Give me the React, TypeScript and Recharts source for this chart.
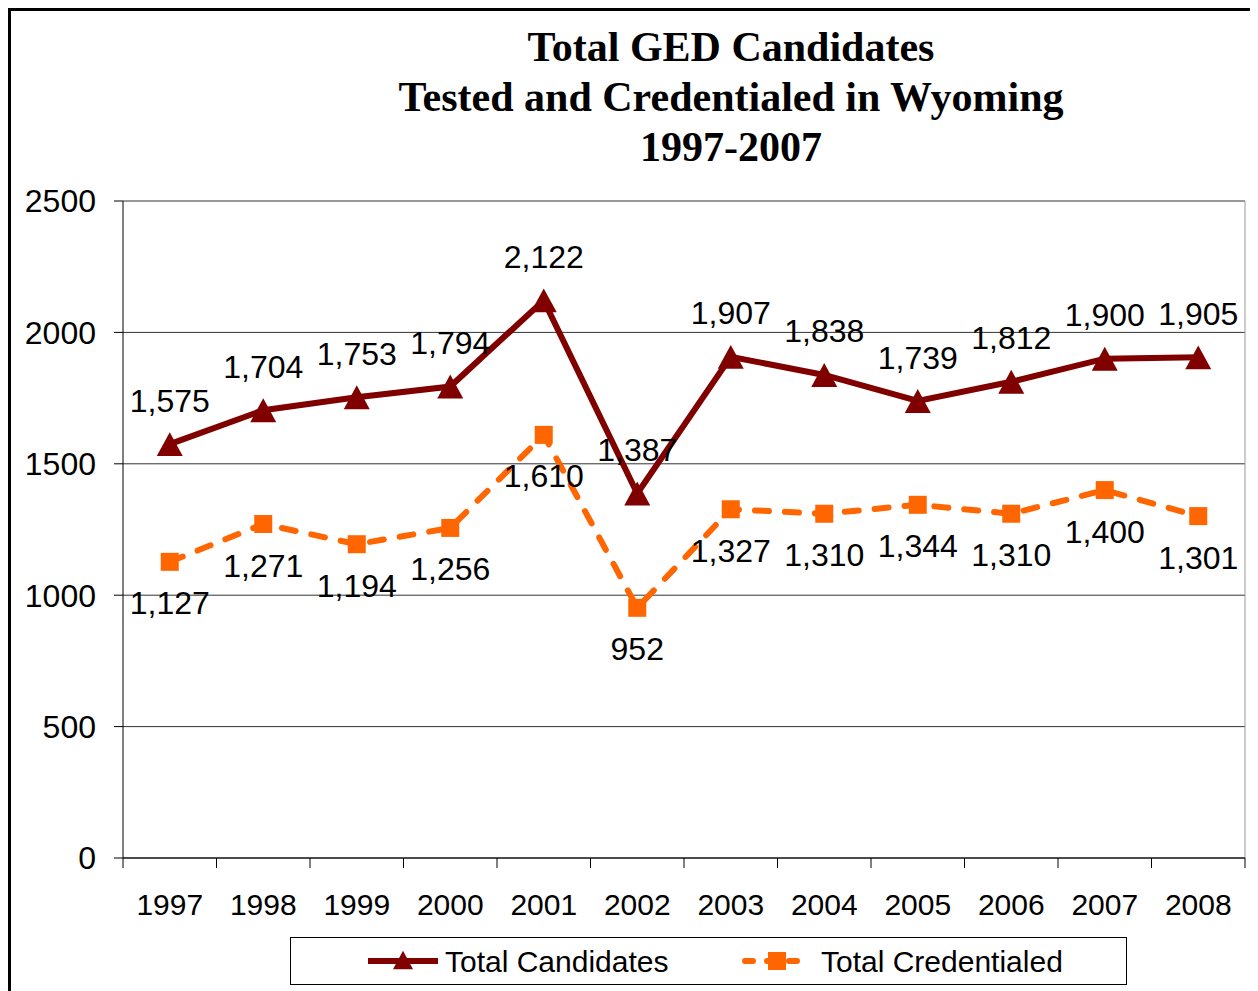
import { CartesianGrid, LabelList, Line, LineChart, XAxis, YAxis } from 'recharts';

const years = ['1997', '1998', '1999', '2000', '2001', '2002', '2003', '2004', '2005', '2006', '2007', '2008'];
const totalCandidates = [1575, 1704, 1753, 1794, 2122, 1387, 1907, 1838, 1739, 1812, 1900, 1905];
const totalCredentialed = [1127, 1271, 1194, 1256, 1610, 952, 1327, 1310, 1344, 1310, 1400, 1301];
const yTicks = [0, 500, 1000, 1500, 2000, 2500];
const titleLines = ['Total GED Candidates', 'Tested and Credentialed in Wyoming', '1997-2007'];

const MAROON = '#800000';
const ORANGE = '#FF6600';
const FONT = '"Liberation Sans", Arial, sans-serif';

const W = 1250;
const H = 983;
const margin = { top: 193, right: 13, left: 0, bottom: 0 };
const Y_W = 115;
const X_H = 133;
const plotW = W - margin.left - margin.right - Y_W;
const step = plotW / years.length;

const data = years.map((year, i) => ({
  year,
  candidates: totalCandidates[i],
  credentialed: totalCredentialed[i],
}));

const fmt = (v: number) => v.toLocaleString('en-US');

function Triangle({ cx, cy, size = 26, fill }: { cx: number; cy: number; size?: number; fill: string }) {
  const h = size * 0.92;
  return (
    <polygon
      points={`${cx},${cy - h / 2} ${cx + size / 2},${cy + h / 2} ${cx - size / 2},${cy + h / 2}`}
      fill={fill}
    />
  );
}

function XTick(props: any) {
  const { x, y, payload, index } = props;
  const left = x - step / 2;
  const last = index === years.length - 1;
  return (
    <g>
      <line x1={left} y1={y} x2={left} y2={y + 10} stroke="#000" strokeWidth={1} />
      {last && <line x1={x + step / 2} y1={y} x2={x + step / 2} y2={y + 10} stroke="#000" strokeWidth={1} />}
      <text x={x} y={y + 57} textAnchor="middle" fontSize={30} fontFamily={FONT} fill="#000">
        {payload.value}
      </text>
    </g>
  );
}

export default function App() {
  return (
    <div style={{ position: 'relative', width: W, height: H, background: '#fff' }}>
      <div
        style={{
          position: 'absolute', left: 0, top: 0, width: 1242, height: 990,
          borderLeft: '3px solid #000', borderTop: '3px solid #000', borderRight: '1px solid #999',
          pointerEvents: 'none',
        }}
      />
      <div
        style={{
          position: 'absolute', left: 323, top: 14, width: 800, textAlign: 'center',
          fontFamily: '"Liberation Serif", "Times New Roman", serif', fontWeight: 'bold',
          fontSize: 42, lineHeight: '50px', color: '#000',
        }}
      >
        {titleLines.map(t => <div key={t}>{t}</div>)}
      </div>
      <LineChart width={W} height={H} data={data} margin={margin} style={{ position: 'absolute', left: 0, top: 0 }}>
        <CartesianGrid horizontal vertical={false} stroke="#333" strokeWidth={1} />
        <CartesianGrid horizontal={false} vertical verticalPoints={[W - margin.right]} stroke="#999" strokeWidth={1} />
        <XAxis
          dataKey="year" height={X_H} tickLine={false} tickSize={0} tickMargin={0}
          padding={{ left: step / 2, right: step / 2 }}
          axisLine={{ stroke: '#000', strokeWidth: 1 }} tick={<XTick />} interval={0}
        />
        <YAxis
          width={Y_W} domain={[0, 2500]} ticks={yTicks} tickSize={9} tickMargin={18}
          axisLine={{ stroke: '#000', strokeWidth: 1 }} tickLine={{ stroke: '#000' }}
          tick={{ fill: '#000', fontSize: 32, fontFamily: FONT }}
        />
        <Line
          dataKey="credentialed" stroke={ORANGE} strokeWidth={6} strokeDasharray="14 16" strokeLinecap="round"
          isAnimationActive={false}
          dot={(p: any) => (
            <rect key={`c${p.index}`} x={p.cx - 9} y={p.cy - 9} width={18} height={18} fill={ORANGE} />
          )}
        >
          <LabelList
            dataKey="credentialed"
            content={(p: any) => (
              <text x={p.x} y={p.y + 41} dy="0.36em" textAnchor="middle" fontSize={32} fontFamily={FONT} fill="#000">
                {fmt(p.value)}
              </text>
            )}
          />
        </Line>
        <Line
          dataKey="candidates" stroke={MAROON} strokeWidth={6} isAnimationActive={false}
          dot={(p: any) => <Triangle key={`t${p.index}`} cx={p.cx} cy={p.cy} fill={MAROON} />}
        >
          <LabelList
            dataKey="candidates"
            content={(p: any) => (
              <text x={p.x} y={p.y - 44} dy="0.36em" textAnchor="middle" fontSize={32} fontFamily={FONT} fill="#000">
                {fmt(p.value)}
              </text>
            )}
          />
        </Line>
      </LineChart>
      <div
        style={{
          position: 'absolute', left: 282, top: 929, width: 835, height: 46,
          border: '1px solid #000', fontFamily: FONT, color: '#000',
        }}
      >
        <svg width={835} height={46} style={{ position: 'absolute', left: 0, top: 0 }}>
          <line x1={77} y1={23} x2={147} y2={23} stroke={MAROON} strokeWidth={6} />
          <Triangle cx={112} cy={22} size={20} fill={MAROON} />
          <line x1={454} y1={23} x2={518} y2={23} stroke={ORANGE} strokeWidth={6} strokeDasharray="8 14" strokeLinecap="round" />
          <rect x={477} y={14} width={18} height={18} fill={ORANGE} />
          <text x={154} y={23} dy="0.36em" fontSize={30} fontFamily={FONT} fill="#000">Total Candidates</text>
          <text x={530} y={23} dy="0.36em" fontSize={30} fontFamily={FONT} fill="#000">Total Credentialed</text>
        </svg>
      </div>
    </div>
  );
}
